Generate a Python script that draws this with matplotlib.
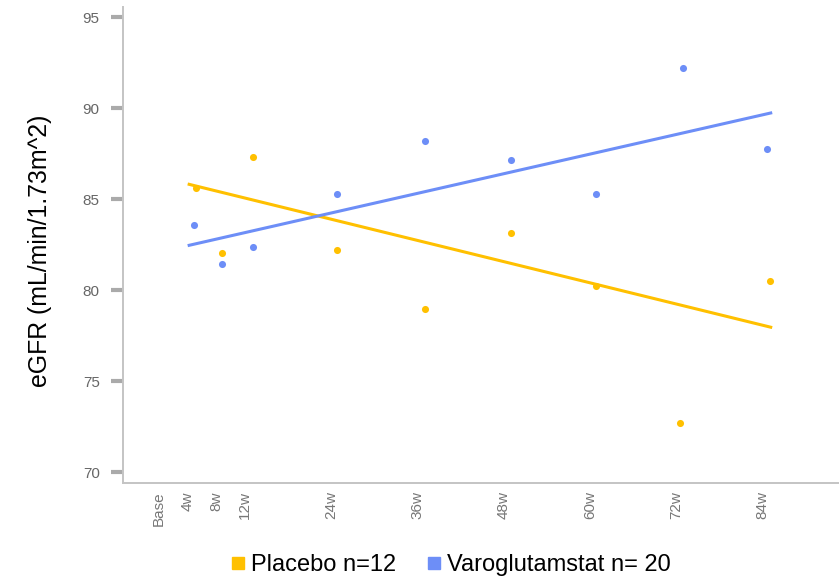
import matplotlib
matplotlib.use("Agg")
import matplotlib.pyplot as plt
from matplotlib.lines import Line2D

plt.rcParams["font.family"] = ["Liberation Sans", "DejaVu Sans"]

# x axis: visit weeks
tick_weeks = [0, 4, 8, 12, 24, 36, 48, 60, 72, 84]
tick_labels = ["Base", "4w", "8w", "12w", "24w", "36w", "48w", "60w", "72w", "84w"]

# placebo group (mean visit week, eGFR)
placebo_wk = [5.2, 8.8, 13.1, 24.8, 37.0, 49.0, 60.8, 72.5, 85.0]
placebo_egfr = [85.6, 82.07, 87.31, 82.23, 78.99, 83.15, 80.22, 72.69, 80.53]
placebo_trend_wk = [4.2, 85.1]
placebo_trend = [85.82, 77.97]

# varoglutamstat group
varo_wk = [4.9, 8.8, 13.1, 24.8, 37.0, 49.0, 60.8, 72.9, 84.6]
varo_egfr = [83.6, 81.45, 82.38, 85.31, 88.22, 87.14, 85.31, 92.23, 87.76]
varo_trend_wk = [4.2, 85.1]
varo_trend = [82.47, 89.74]

yellow = "#FFC000"
blue = "#6D8EF7"

fig = plt.figure(figsize=(8.39, 5.77), dpi=100)
ax = fig.add_axes([0.1462, 0.1629, 0.8538, 0.8255])

ax.plot(placebo_trend_wk, placebo_trend, color=yellow, lw=2.2, zorder=2)
ax.plot(varo_trend_wk, varo_trend, color=blue, lw=2.2, zorder=2)
ax.scatter(placebo_wk, placebo_egfr, s=26, color=yellow, lw=0, zorder=3)
ax.scatter(varo_wk, varo_egfr, s=26, color=blue, lw=0, zorder=3)

ax.set_xlim(-5.05, 94.6)
ax.set_ylim(69.41, 95.58)
ax.set_yticks([70, 75, 80, 85, 90, 95])
ax.set_xticks(tick_weeks)
ax.set_xticklabels(tick_labels, rotation=90)

for s in ["top", "right"]:
    ax.spines[s].set_visible(False)
for s in ["left", "bottom"]:
    ax.spines[s].set_color("#c4c4c4")
    ax.spines[s].set_linewidth(1.4)

ax.tick_params(axis="y", length=8.5, width=3, color="#aaaaaa",
               labelsize=11, labelcolor="#666666", pad=8)
ax.tick_params(axis="x", length=0, labelsize=11, labelcolor="#777777", pad=6)

ax.set_ylabel("eGFR (mL/min/1.73m^2)", fontsize=17.9)
ax.yaxis.set_label_coords(-0.099, 0.487)

handles = [
    Line2D([], [], ls="none", marker="s", markersize=9.2, color=yellow),
    Line2D([], [], ls="none", marker="s", markersize=9.2, color=blue),
]
fig.legend(handles, ["Placebo n=12", "Varoglutamstat n= 20"],
           loc="center", bbox_to_anchor=(0.537, 0.021), ncol=2, frameon=False,
           fontsize=17, handlelength=0.6, handletextpad=0.25, columnspacing=1.3,
           borderaxespad=0, borderpad=0)

fig.savefig("out.png", dpi=100)
